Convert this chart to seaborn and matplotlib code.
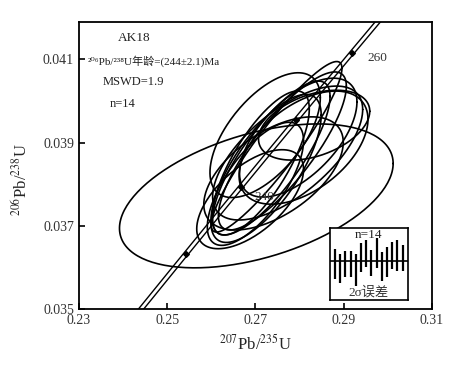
import numpy as np
import pandas as pd
import matplotlib
matplotlib.use('Agg')
import matplotlib.pyplot as plt
import seaborn as sns

# error ellipses (2 sigma) on the 207Pb/235U vs 206Pb/238U plane
ell_x = [0.2702, 0.2833, 0.2748, 0.2761, 0.2736, 0.2724, 0.2722,
         0.2797, 0.2700, 0.2773, 0.2712, 0.2809, 0.2741, 0.2688]
ell_y = [0.03772, 0.03942, 0.03890, 0.03880, 0.03863, 0.03838, 0.03918,
         0.03912, 0.03801, 0.03875, 0.03851, 0.03888, 0.03826, 0.03764]
ell_sx = [0.0310, 0.0126, 0.0148, 0.0145, 0.0133, 0.0125, 0.0125,
          0.0133, 0.0109, 0.0170, 0.0110, 0.0146, 0.0158, 0.0121]
ell_sy = [0.00173, 0.00084, 0.00205, 0.00190, 0.00185, 0.00178, 0.00150,
          0.00143, 0.00148, 0.00161, 0.00173, 0.00136, 0.00136, 0.00119]
ell_rho = [0.45, 0.40, 0.92, 0.82, 0.80, 0.72, 0.60,
           0.60, 0.70, 0.65, 0.75, 0.50, 0.55, 0.60]

# concordia
lam238 = 1.55125e-10
lam235 = 9.8485e-10
marker_ages = [230, 240, 250, 260]
label_ages = [240, 260]

# inset: individual 206/238 ages with 2 sigma errors
spot_age = [243.0, 241.5, 242.9, 243.0, 241.0, 245.0, 246.2,
            243.3, 246.5, 242.1, 243.5, 245.6, 245.7, 245.0]
spot_err = [4.8, 4.8, 4.1, 4.2, 5.2, 4.8, 4.4,
            4.3, 4.8, 4.8, 4.8, 4.4, 4.9, 4.2]
mean_age = 244.0

sns.set_theme(style='ticks')
plt.rcParams['font.family'] = ['Liberation Serif', 'DejaVu Serif', 'Noto Sans CJK SC']
plt.rcParams['mathtext.fontset'] = 'stix'

fig = plt.figure(figsize=(4.64, 3.67), dpi=100)
ax = fig.add_axes([0.170, 0.158, 0.761, 0.782])

# ellipse outlines
t = np.linspace(0, 2 * np.pi, 200)
rows = []
for i in range(len(ell_x)):
    r = ell_rho[i]
    xs = ell_x[i] + ell_sx[i] * np.cos(t)
    ys = ell_y[i] + ell_sy[i] * (r * np.cos(t) + np.sqrt(1 - r ** 2) * np.sin(t))
    rows.append(pd.DataFrame({'x': xs, 'y': ys, 'id': i}))
ell_df = pd.concat(rows, ignore_index=True)
sns.lineplot(data=ell_df, x='x', y='y', units='id', estimator=None, sort=False,
             color='black', lw=1.2, ax=ax, legend=False)

# concordia band (two lines)
ages = np.linspace(210e6, 275e6, 300)
r68 = np.exp(lam238 * ages) - 1
r75 = np.exp(lam235 * ages) - 1
conc = pd.DataFrame({'x': np.concatenate([r75 - 0.0006, r75 + 0.0006]),
                     'y': np.concatenate([r68, r68]),
                     'band': ['lo'] * len(ages) + ['hi'] * len(ages)})
sns.lineplot(data=conc, x='x', y='y', units='band', estimator=None, sort=False,
             color='black', lw=1.0, ax=ax, legend=False)

ma = np.array(marker_ages) * 1e6
ax.scatter(np.exp(lam235 * ma) - 1, np.exp(lam238 * ma) - 1, marker='D', s=8,
           color='black', zorder=5)
for a in label_ages:
    xa = np.exp(lam235 * a * 1e6) - 1
    ya = np.exp(lam238 * a * 1e6) - 1
    off = (11, -4) if a == 260 else (10, -7)
    ax.annotate(str(a), (xa, ya), xytext=off, textcoords='offset points',
                ha='left', va='center', fontsize=9.5, color='#333333')

ax.set_xlim(0.23, 0.31)
ax.set_ylim(0.035, 0.0419)
ax.set_xticks([0.23, 0.25, 0.27, 0.29, 0.31])
ax.set_yticks([0.035, 0.037, 0.039, 0.041])
ax.set_xticklabels(['0.23', '0.25', '0.27', '0.29', '0.31'])
ax.set_yticklabels(['0.035', '0.037', '0.039', '0.041'])
ax.tick_params(direction='in', length=4, width=1.2, labelsize=10, colors='black',
               labelcolor='#333333')
for s in ax.spines.values():
    s.set_visible(True)
    s.set_linewidth(1.3)
    s.set_color('black')
ax.set_xlabel(r'$^{207}$Pb/$^{235}$U', fontsize=12, labelpad=5)
ax.set_ylabel(r'$^{206}$Pb/$^{238}$U', fontsize=12)
ax.yaxis.set_label_coords(-0.135, 0.45)

tx = dict(transform=ax.transAxes, ha='center', va='center', color='#222222')
ax.text(0.158, 0.945, 'AK18', fontsize=9.5, **tx)
ax.text(0.212, 0.865, '²⁰⁶Pb/²³⁸U年龄=(244±2.1)Ma', fontsize=8, **tx)
ax.text(0.155, 0.79, 'MSWD=1.9', fontsize=9, **tx)
ax.text(0.125, 0.715, 'n=14', fontsize=9, **tx)

# inset with individual ages
ins = fig.add_axes([0.711, 0.183, 0.168, 0.196])
pos = np.arange(1, len(spot_age) + 1)
ins.vlines(pos, np.array(spot_age) - np.array(spot_err),
           np.array(spot_age) + np.array(spot_err), color='black', lw=1.6)
ins.axhline(mean_age, color='black', lw=1.2)
ins.set_xlim(0, len(spot_age) + 1)
ins.set_ylim(mean_age - 12.7, mean_age + 10.6)
ins.set_xticks([])
ins.set_yticks([])
for s in ins.spines.values():
    s.set_visible(True)
    s.set_linewidth(1.2)
    s.set_color('black')
ins.text(0.5, 0.9, 'n=14', transform=ins.transAxes, ha='center', va='center',
         fontsize=9.5, color='#222222')
ins.text(0.5, 0.11, '2σ误差', transform=ins.transAxes, ha='center', va='center',
         fontsize=9.5, color='#333333')

fig.savefig('out.png', dpi=100, facecolor='white')
